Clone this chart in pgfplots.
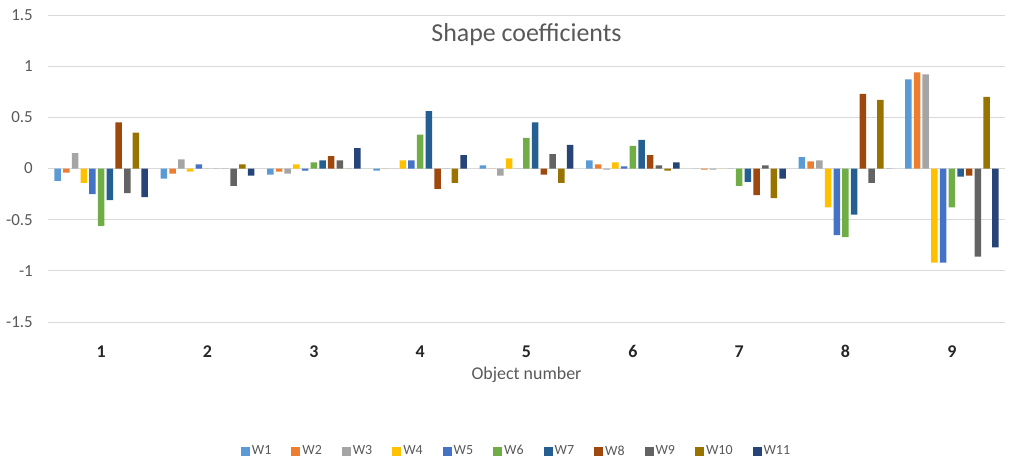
\documentclass[border=0pt]{standalone}
\usepackage{pgfplots}
\pgfplotsset{compat=1.18}
\usepackage{pgfplotstable}
\usepackage{fontspec}
\setmainfont{Carlito}
\definecolor{c1}{HTML}{5B9BD5}
\definecolor{c2}{HTML}{ED7D31}
\definecolor{c3}{HTML}{A5A5A5}
\definecolor{c4}{HTML}{FFC000}
\definecolor{c5}{HTML}{4472C4}
\definecolor{c6}{HTML}{70AD47}
\definecolor{c7}{HTML}{255E91}
\definecolor{c8}{HTML}{9E480E}
\definecolor{c9}{HTML}{636363}
\definecolor{c10}{HTML}{997300}
\definecolor{c11}{HTML}{264478}
\definecolor{gridc}{HTML}{D9D9D9}
\definecolor{txt}{HTML}{595959}
\newcommand{\yl}[1]{{\fontsize{17}{19}\selectfont\color{txt}#1}}
\pgfplotstableread{
x W1 W2 W3 W4 W5 W6 W7 W8 W9 W10 W11
1 -0.12 -0.04 0.15 -0.14 -0.25 -0.56 -0.31 0.45 -0.24 0.35 -0.28
2 -0.10 -0.05 0.09 -0.03 0.04 0 0 0 -0.17 0.04 -0.07
3 -0.06 -0.03 -0.05 0.04 -0.02 0.06 0.08 0.12 0.08 0 0.20
4 -0.02 0 0 0.08 0.08 0.33 0.56 -0.20 0 -0.14 0.13
5 0.03 0 -0.07 0.10 0 0.30 0.45 -0.06 0.14 -0.14 0.23
6 0.08 0.04 -0.01 0.06 0.02 0.22 0.28 0.13 0.03 -0.02 0.06
7 0 -0.01 -0.01 0 0 -0.17 -0.13 -0.26 0.03 -0.29 -0.10
8 0.11 0.07 0.08 -0.38 -0.65 -0.67 -0.45 0.73 -0.14 0.67 0
9 0.87 0.94 0.92 -0.92 -0.92 -0.38 -0.08 -0.07 -0.86 0.70 -0.77
}\datatable
\begin{document}
\begin{tikzpicture}
\path[use as bounding box] (-48bp,-140bp) rectangle (961bp,322bp);
\begin{axis}[
  scale only axis,
  width=957bp, height=307bp,
  ybar=2.2bp, bar width=6.5bp,
  xmin=0.5, xmax=9.5, ymin=-1.5, ymax=1.5,
  xtick={1,...,9},
  ytick={-1.5,-1,-0.5,0,0.5,1,1.5},
  yticklabels={\yl{-1.5},\yl{-1},\yl{-0.5},\yl{0},\yl{0.5},\yl{1},\yl{1.5}},
  axis line style={draw=none},
  tick style={draw=none},
  ymajorgrids, grid style={gridc, line width=1bp},
  /pgf/number format/assume math mode=true,
  y tick label style={anchor=east, inner sep=0pt, xshift=-15bp},
  xticklabel style={font=\fontsize{18}{20}\selectfont\bfseries, text=black!85, anchor=center, yshift=-25bp},
  xlabel={Object number},
  xlabel style={at={(rel axis cs:0.5,0)}, anchor=center, yshift=-53bp, font=\fontsize{18}{20}\selectfont, text=txt},
  title={Shape coefficients},
  title style={at={(rel axis cs:0.5,1)}, anchor=center, yshift=-26bp, font=\fontsize{26}{30}\selectfont, text=txt},
  legend style={at={(rel axis cs:0.5,0)}, anchor=center, yshift=-129bp, xshift=-10bp, draw=none, fill=none,
    legend columns=11, font=\fontsize{14}{16}\selectfont, text=txt,
    /tikz/every even column/.append style={column sep=18bp}},
  legend image code/.code={\fill[#1] (0bp,-4.5bp) rectangle (9bp,4.5bp);},
]
\addplot[fill=c1, draw=none] table[x=x, y=W1] {\datatable};
\addplot[fill=c2, draw=none] table[x=x, y=W2] {\datatable};
\addplot[fill=c3, draw=none] table[x=x, y=W3] {\datatable};
\addplot[fill=c4, draw=none] table[x=x, y=W4] {\datatable};
\addplot[fill=c5, draw=none] table[x=x, y=W5] {\datatable};
\addplot[fill=c6, draw=none] table[x=x, y=W6] {\datatable};
\addplot[fill=c7, draw=none] table[x=x, y=W7] {\datatable};
\addplot[fill=c8, draw=none] table[x=x, y=W8] {\datatable};
\addplot[fill=c9, draw=none] table[x=x, y=W9] {\datatable};
\addplot[fill=c10, draw=none] table[x=x, y=W10] {\datatable};
\addplot[fill=c11, draw=none] table[x=x, y=W11] {\datatable};
\legend{W1,W2,W3,W4,W5,W6,W7,W8,W9,W10,W11}
\end{axis}
\end{tikzpicture}
\end{document}
